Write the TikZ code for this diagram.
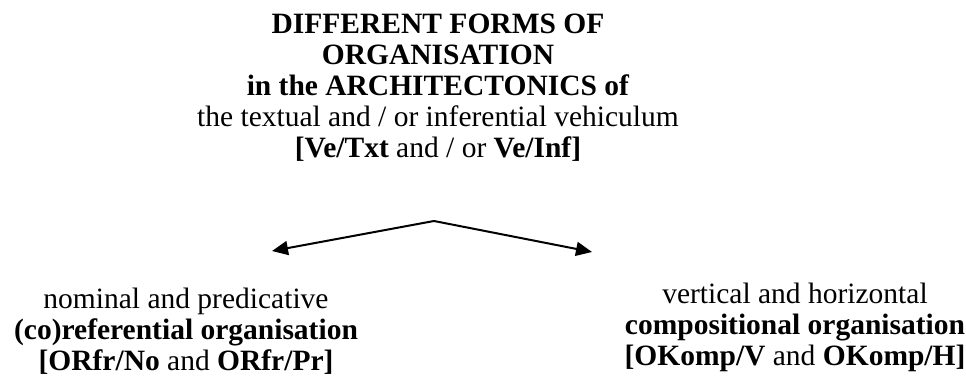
\documentclass[tikz,border=0pt]{standalone}
\usepackage{fontspec}
\setmainfont{Liberation Serif}
\usepackage{xcolor}
\usepackage{tikz}
\usetikzlibrary{arrows, arrows.meta}
\usetikzlibrary{positioning}

\tikzset{
  formtext/.style={align=center, inner sep=0pt, anchor=base,
    font=\fontsize{14.75}{15.5}\selectfont},
  splitarrow/.style={line width=1pt, -{Triangle[length=8pt, width=7pt]}}
}

\begin{document}
\begin{tikzpicture}[x=0.5pt, y=-0.5pt]
      \useasboundingbox (0,0) rectangle (966,378);

      % anchor=base sits on the last line
      \node[formtext] (forms) at (438,158)
        {\textbf{DIFFERENT FORMS OF}\\
         \textbf{ORGANISATION}\\
         \textbf{in the ARCHITECTONICS of}\\
         the textual and / or inferential vehiculum\\
         \textbf{[Ve/Txt} and / or \textbf{Ve/Inf]}};

      \node[formtext] (coref) at (186,371)
        {nominal and predicative\\
         \textbf{(co)referential organisation}\\
         \textbf{[ORfr/No} and \textbf{ORfr/Pr]}};

      \node[formtext] (compos) at (795,366)
        {vertical and horizontal\\
         \textbf{compositional organisation}\\
         \textbf{[OKomp/V} and \textbf{OKomp/H]}};

      \coordinate (fork) at (434,221);
      \coordinate (leftend) at (272,251);
      \coordinate (rightend) at (592,252);

      \draw[splitarrow] (fork) -- (leftend);
      \draw[splitarrow] (fork) -- (rightend);
    \end{tikzpicture}
\end{document}
